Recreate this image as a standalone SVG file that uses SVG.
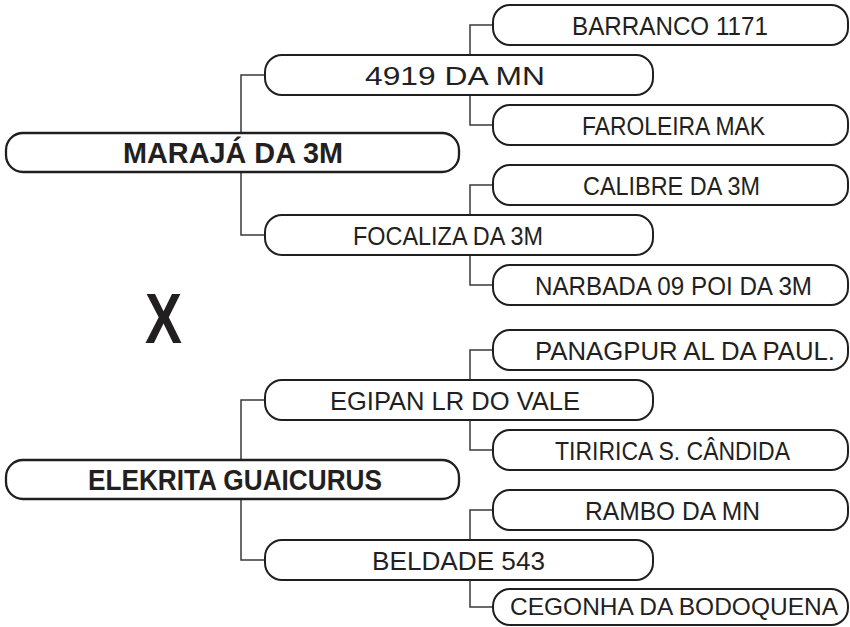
<svg xmlns="http://www.w3.org/2000/svg" width="850" height="627" viewBox="0 0 850 627">
<style>
.box{fill:#fff;stroke:#1f1f1f;stroke-width:2}
.main{stroke-width:2.3}
.c{fill:none;stroke:#3a3a3a;stroke-width:1.5}
text{font-family:"Liberation Sans",Arial,sans-serif;fill:#231f20}
.t{font-size:26px}
.tm{font-size:29px;font-weight:bold}
</style>
<rect width="850" height="627" fill="#fff"/>
<g id="connectors">
<path class="c" d="M241,133V75H265M241,172V235H265"/>
<path class="c" d="M241,460V400H265M241,499V560H265"/>
<path class="c" d="M470,55V25H493M470,95V125H493"/>
<path class="c" d="M470,215V185H493M470,255V285H493"/>
<path class="c" d="M470,380V350H493M470,420V450H493"/>
<path class="c" d="M470,540V510H493M470,580V607H493"/>
</g>
<g id="maraja"><rect class="box main" x="6" y="133" width="453" height="39" rx="17" ry="17"/><text class="tm" x="123" y="163" textLength="220" lengthAdjust="spacingAndGlyphs">MARAJÁ DA 3M</text></g>
<g id="n4919"><rect class="box" x="265" y="55" width="388" height="40" rx="17" ry="17"/><text class="t" x="365" y="84.5" textLength="180" lengthAdjust="spacingAndGlyphs">4919 DA MN</text></g>
<g id="barranco"><rect class="box" x="493" y="5" width="355" height="40" rx="17" ry="17"/><text class="t" x="572" y="34.5" textLength="196" lengthAdjust="spacingAndGlyphs">BARRANCO 1171</text></g>
<g id="faroleira"><rect class="box" x="493" y="105" width="355" height="40" rx="17" ry="17"/><text class="t" x="582" y="134.5" textLength="183" lengthAdjust="spacingAndGlyphs">FAROLEIRA MAK</text></g>
<g id="focaliza"><rect class="box" x="265" y="215" width="388" height="40" rx="17" ry="17"/><text class="t" x="353" y="244.5" textLength="190" lengthAdjust="spacingAndGlyphs">FOCALIZA DA 3M</text></g>
<g id="calibre"><rect class="box" x="493" y="165" width="355" height="40" rx="17" ry="17"/><text class="t" x="583" y="194.5" textLength="177" lengthAdjust="spacingAndGlyphs">CALIBRE DA 3M</text></g>
<g id="narbada"><rect class="box" x="493" y="265" width="355" height="40" rx="17" ry="17"/><text class="t" x="535" y="294.5" textLength="277" lengthAdjust="spacingAndGlyphs">NARBADA 09 POI DA 3M</text></g>
<g id="x"><text x="145" y="343" font-size="70" font-weight="bold" textLength="37" lengthAdjust="spacingAndGlyphs">X</text></g>
<g id="elekrita"><rect class="box main" x="6" y="460" width="453" height="39" rx="17" ry="17"/><text class="tm" x="88" y="490" textLength="294" lengthAdjust="spacingAndGlyphs">ELEKRITA GUAICURUS</text></g>
<g id="egipan"><rect class="box" x="265" y="380" width="388" height="40" rx="17" ry="17"/><text class="t" x="330" y="409.5" textLength="250" lengthAdjust="spacingAndGlyphs">EGIPAN LR DO VALE</text></g>
<g id="panagpur"><rect class="box" x="493" y="330" width="355" height="40" rx="17" ry="17"/><text class="t" x="535" y="359.5" textLength="300" lengthAdjust="spacingAndGlyphs">PANAGPUR AL DA PAUL.</text></g>
<g id="tiririca"><rect class="box" x="493" y="430" width="355" height="40" rx="17" ry="17"/><text class="t" x="555" y="459.5" textLength="235" lengthAdjust="spacingAndGlyphs">TIRIRICA S. CÂNDIDA</text></g>
<g id="beldade"><rect class="box" x="265" y="540" width="388" height="40" rx="17" ry="17"/><text class="t" x="372" y="569.5" textLength="173" lengthAdjust="spacingAndGlyphs">BELDADE 543</text></g>
<g id="rambo"><rect class="box" x="493" y="490" width="355" height="40" rx="17" ry="17"/><text class="t" x="585" y="519.5" textLength="175" lengthAdjust="spacingAndGlyphs">RAMBO DA MN</text></g>
<g id="cegonha"><rect class="box" x="493" y="589" width="355" height="36" rx="17" ry="17"/><text x="510" y="615" font-size="24" textLength="328" lengthAdjust="spacingAndGlyphs">CEGONHA DA BODOQUENA</text></g>
</svg>
